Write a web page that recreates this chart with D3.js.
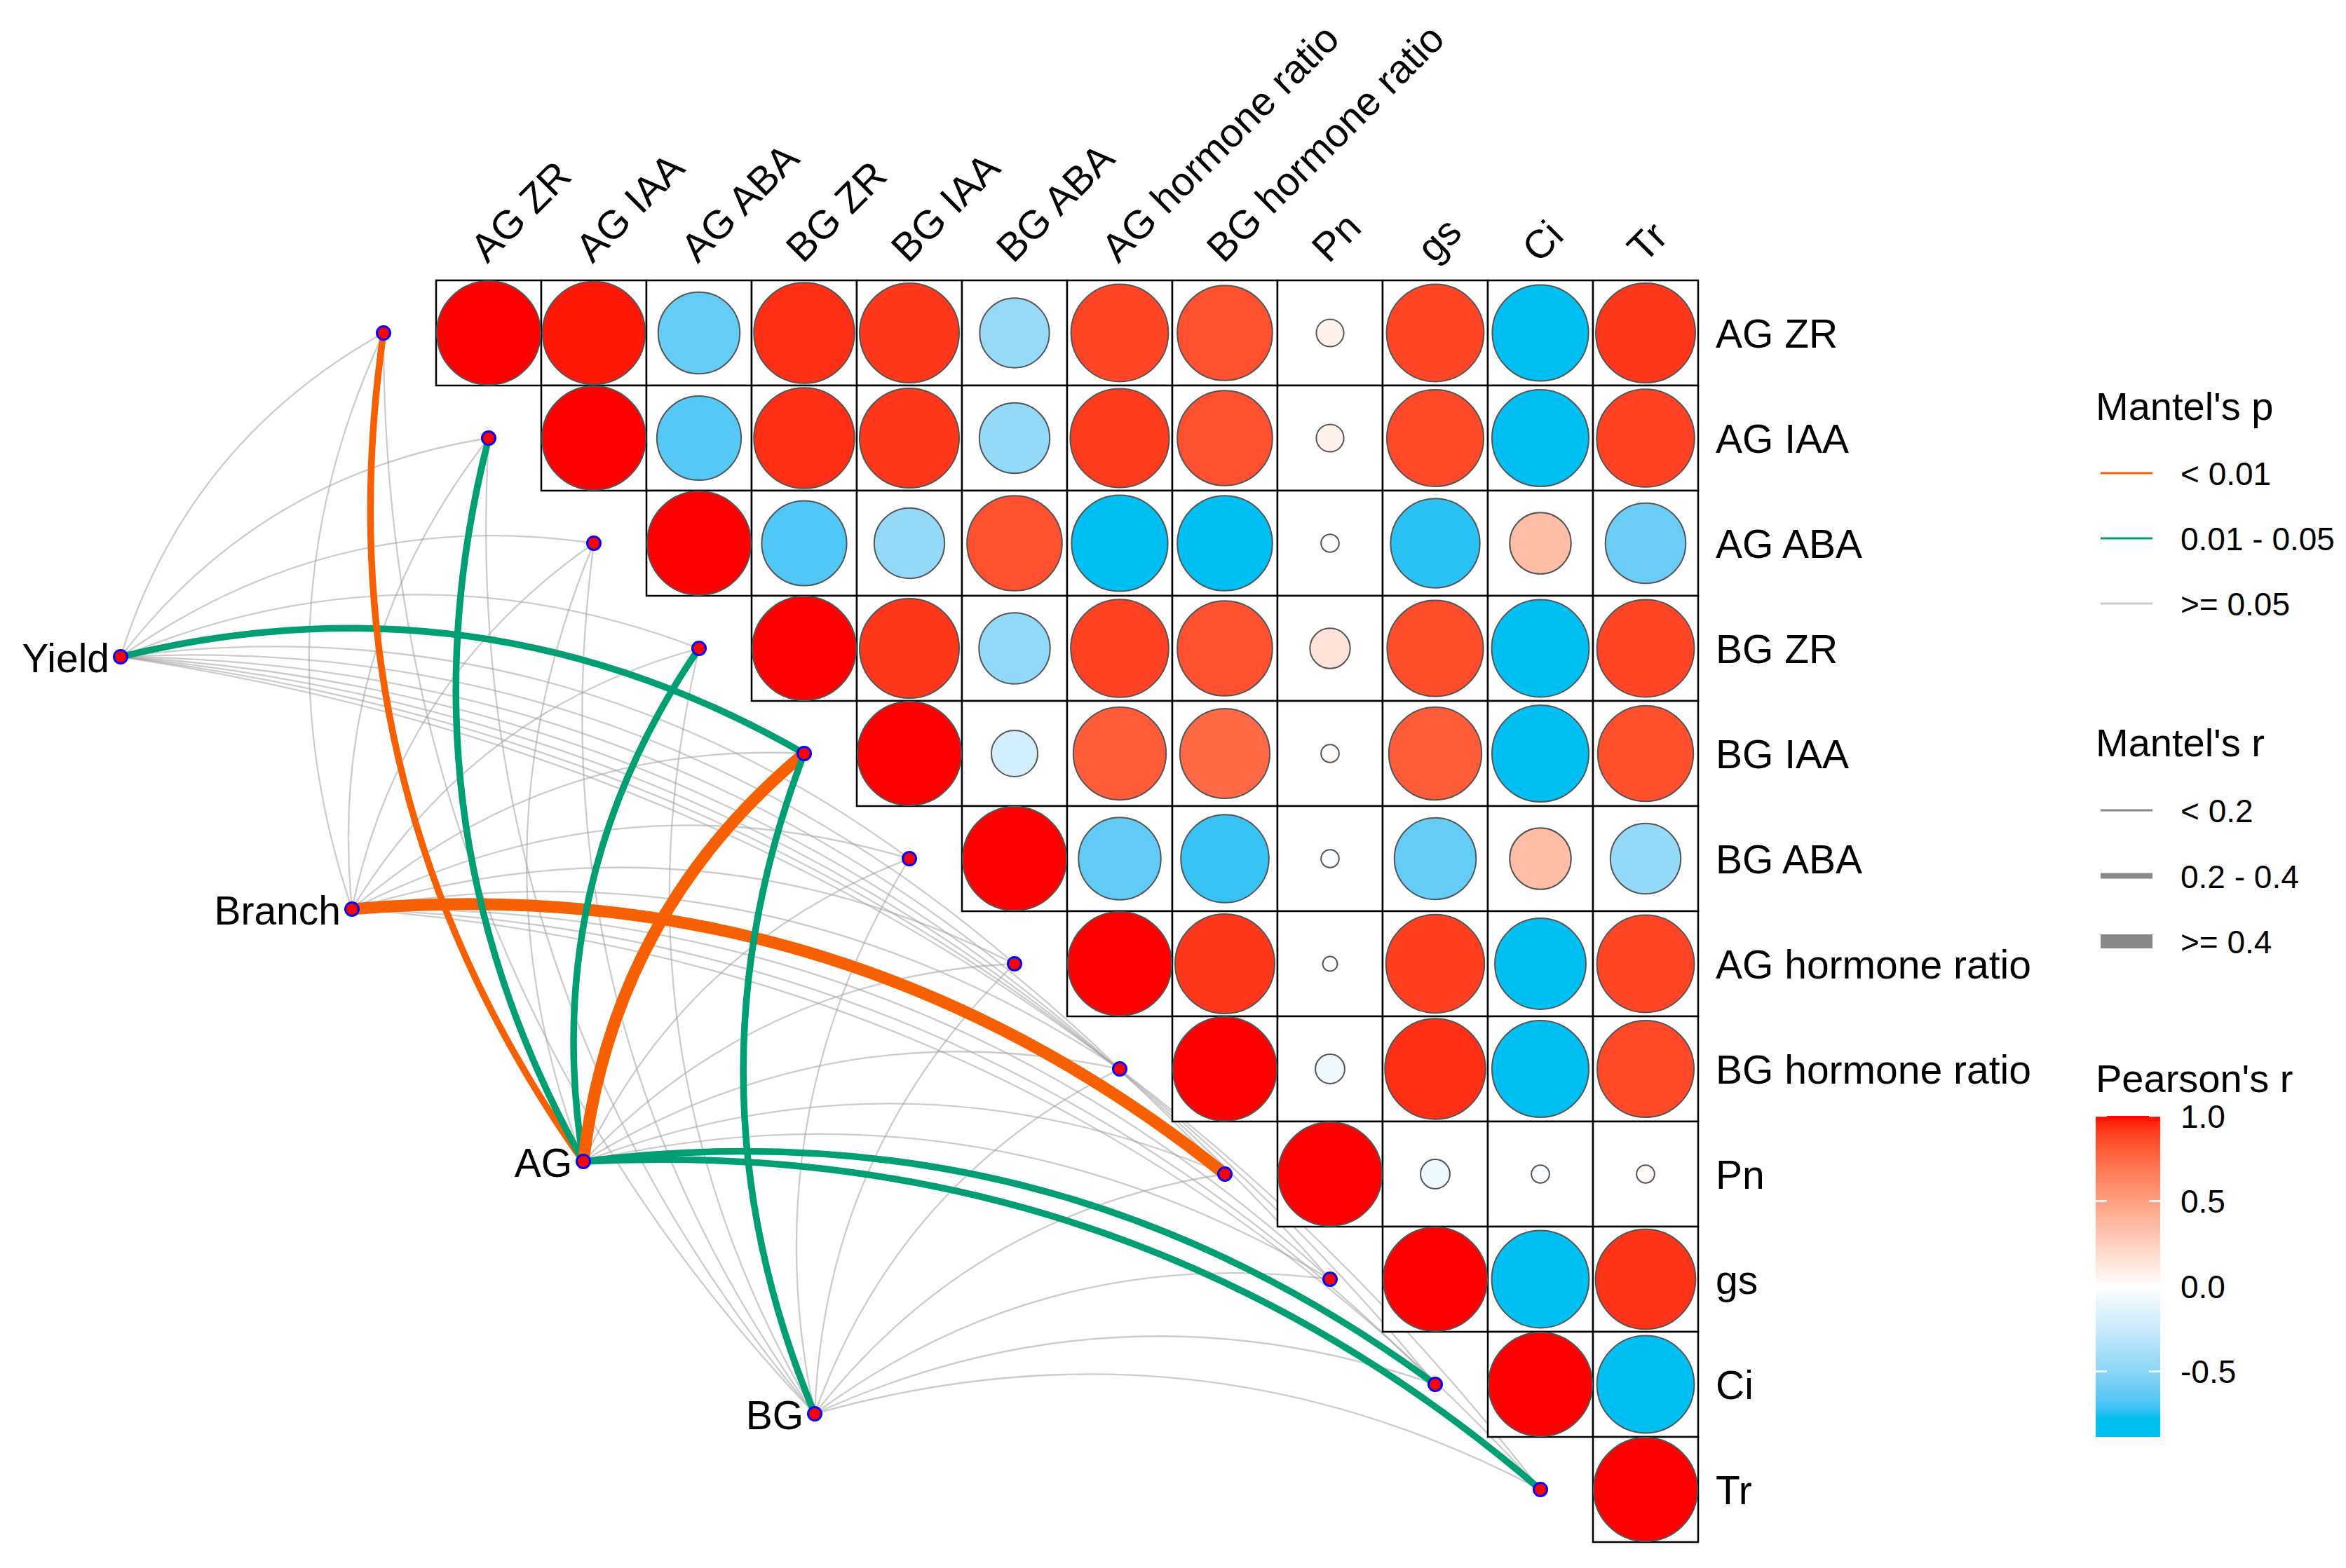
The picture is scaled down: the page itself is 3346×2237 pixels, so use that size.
<!DOCTYPE html>
<html>
<head>
<meta charset="utf-8">
<script src="https://cdn.jsdelivr.net/npm/d3@7/dist/d3.min.js"></script>
<style>
body { margin: 0; background: #fff; }
text { font-family: "Liberation Sans", Arial, sans-serif; fill: #000; }
</style>
</head>
<body>
<script>
// variables of the correlation matrix
var vars = ["AG ZR", "AG IAA", "AG ABA", "BG ZR", "BG IAA", "BG ABA",
            "AG hormone ratio", "BG hormone ratio", "Pn", "gs", "Ci", "Tr"];

// Pearson's r, upper triangle: row i holds columns i..11
var corrRows = [
  [1.00, 0.98, -0.62, 0.94, 0.92, -0.45, 0.88, 0.84, 0.07, 0.88, -0.86, 0.92],
  [1.00, -0.66, 0.94, 0.92, -0.46, 0.91, 0.84, 0.07, 0.87, -0.87, 0.89],
  [1.00, -0.67, -0.46, 0.84, -0.86, -0.84, 0.03, -0.74, 0.35, -0.60],
  [1.00, 0.92, -0.47, 0.89, 0.84, 0.15, 0.86, -0.88, 0.88],
  [1.00, -0.20, 0.80, 0.75, 0.03, 0.80, -0.87, 0.85],
  [1.00, -0.63, -0.72, -0.03, -0.62, 0.35, -0.46],
  [1.00, 0.92, 0.02, 0.90, -0.77, 0.88],
  [1.00, -0.08, 0.94, -0.87, 0.87],
  [1.00, -0.08, -0.03, 0.03],
  [1.00, -0.88, 0.93],
  [1.00, -0.88],
  [1.00]
];

// Mantel test: sources vs each variable
var sources = ["Yield", "Branch", "AG", "BG"];
var mantelR = [
  [0.12, 0.10, 0.08, 0.14, 0.26, 0.06, 0.13, 0.11, 0.09, 0.12, 0.10, 0.11],
  [0.05, 0.04, 0.07, 0.06, 0.09, 0.03, 0.05, 0.06, 0.46, 0.10, 0.04, 0.08],
  [0.31, 0.27, 0.10, 0.26, 0.47, 0.08, 0.15, 0.14, 0.06, 0.16, 0.24, 0.25],
  [0.08, 0.07, 0.05, 0.12, 0.28, 0.06, 0.09, 0.10, 0.04, 0.07, 0.11, 0.09]
];
var mantelP = [
  [0.21, 0.30, 0.45, 0.12, 0.03, 0.62, 0.18, 0.24, 0.40, 0.20, 0.33, 0.27],
  [0.65, 0.70, 0.52, 0.60, 0.35, 0.81, 0.66, 0.58, 0.004, 0.28, 0.74, 0.44],
  [0.006, 0.02, 0.33, 0.03, 0.001, 0.51, 0.09, 0.11, 0.63, 0.08, 0.04, 0.035],
  [0.48, 0.55, 0.71, 0.16, 0.02, 0.60, 0.37, 0.29, 0.77, 0.50, 0.22, 0.41]
];

var pLabels = ["< 0.01", "0.01 - 0.05", ">= 0.05"];
var rLabels = ["< 0.2", "0.2 - 0.4", ">= 0.4"];
var barTicks = [-0.5, 0, 0.5, 1.0];

var W = 3346, H = 2237;
var svg = d3.select("body").append("svg").attr("width", W).attr("height", H);

var x = d3.scaleBand().domain(vars).range([622, 2422]);
var y = d3.scaleBand().domain(vars).range([400, 2200]);
var cell = x.bandwidth();

var fill = d3.scaleLinear().domain([-0.77, 0, 1])
  .range(["#00BFF3", "#ffffff", "#ff0000"])
  .interpolate(d3.interpolateLab).clamp(true);
var rad = d3.scaleSqrt().domain([0, 1]).range([0, 74]);

var cells = [];
corrRows.forEach(function (row, i) {
  row.forEach(function (v, k) {
    cells.push({ row: vars[i], col: vars[i + k], r: v });
  });
});

// ---- network links ----
var pCol = function (p) { return p < 0.01 ? "#F66000" : (p < 0.05 ? "#009E73" : "rgba(162,162,162,0.55)"); };
var rW = function (r) { return r < 0.2 ? 2.3 : (r < 0.4 ? 9.5 : 17); };

var srcPos = sources.map(function (s, i) {
  return { name: s, x: 622 + cell * (-3.0 + 2.2 * i), y: 400 + cell * (3.58 + 2.4 * i) };
});
var tgtPos = vars.map(function (v, i) {
  return { name: v, x: x(v) - cell / 2, y: y(v) + cell / 2 };
});

var links = [];
sources.forEach(function (s, i) {
  vars.forEach(function (v, j) {
    links.push({ s: srcPos[i], t: tgtPos[j], r: mantelR[i][j], p: mantelP[i][j] });
  });
});
links.sort(function (a, b) {
  var ga = a.p >= 0.05 ? 0 : 1, gb = b.p >= 0.05 ? 0 : 1;
  return ga - gb;
});

function curve(d) {
  var dx = d.t.x - d.s.x, dy = d.t.y - d.s.y;
  var cx = (d.s.x + d.t.x) / 2 + 0.2 * dy, cy = (d.s.y + d.t.y) / 2 - 0.2 * dx;
  return "M" + d.s.x + "," + d.s.y + " Q" + cx + "," + cy + " " + d.t.x + "," + d.t.y;
}

svg.append("g").selectAll("path")
  .data(links)
  .enter().append("path")
    .attr("d", curve)
    .attr("fill", "none")
    .attr("stroke", function (d) { return pCol(d.p); })
    .attr("stroke-width", function (d) { return rW(d.r); });

// ---- correlation matrix ----
svg.append("g").selectAll("rect")
  .data(cells)
  .enter().append("rect")
    .attr("x", function (d) { return x(d.col); })
    .attr("y", function (d) { return y(d.row); })
    .attr("width", cell).attr("height", cell)
    .attr("fill", "#fff").attr("stroke", "#000").attr("stroke-width", 2.5);

svg.append("g").selectAll("circle")
  .data(cells)
  .enter().append("circle")
    .attr("cx", function (d) { return x(d.col) + cell / 2; })
    .attr("cy", function (d) { return y(d.row) + cell / 2; })
    .attr("r", function (d) { return rad(Math.abs(d.r)); })
    .attr("fill", function (d) { return fill(d.r); })
    .attr("stroke", "#555").attr("stroke-width", 2);

// nodes
svg.append("g").selectAll("circle")
  .data(srcPos.concat(tgtPos))
  .enter().append("circle")
    .attr("cx", function (d) { return d.x; })
    .attr("cy", function (d) { return d.y; })
    .attr("r", 9.5)
    .attr("fill", "#ff0000").attr("stroke", "#0000ff").attr("stroke-width", 3);

svg.append("g").selectAll("text")
  .data(srcPos)
  .enter().append("text")
    .attr("x", function (d) { return d.x - 16; })
    .attr("y", function (d) { return d.y + 22; })
    .attr("text-anchor", "end")
    .attr("font-size", 57)
    .text(function (d) { return d.name; });

// axis labels
svg.append("g").selectAll("text")
  .data(vars)
  .enter().append("text")
    .attr("x", 2447)
    .attr("y", function (d) { return y(d) + cell / 2 + 21; })
    .attr("font-size", 57)
    .text(function (d) { return d; });

svg.append("g").selectAll("text")
  .data(vars)
  .enter().append("text")
    .attr("transform", function (d) { return "translate(" + (x(d) + cell / 2 - 2) + ",377) rotate(-45)"; })
    .attr("font-size", 57)
    .text(function (d) { return d; });

// ---- legends ----
var lg = svg.append("g");
lg.append("text").attr("x", 2989).attr("y", 599).attr("font-size", 56).text("Mantel's p");
var pColors = ["#F66000", "#009E73", "#cccccc"];
pLabels.forEach(function (t, i) {
  var yy = 675 + i * 93;
  lg.append("line").attr("x1", 2996).attr("x2", 3070).attr("y1", yy).attr("y2", yy)
    .attr("stroke", pColors[i]).attr("stroke-width", 3);
  lg.append("text").attr("x", 3110).attr("y", yy + 17).attr("font-size", 46).text(t);
});

lg.append("text").attr("x", 2989).attr("y", 1079).attr("font-size", 56).text("Mantel's r");
var rWidths = [3, 8, 20];
rLabels.forEach(function (t, i) {
  var yy = 1156 + i * 93.5;
  lg.append("line").attr("x1", 2996).attr("x2", 3070).attr("y1", yy).attr("y2", yy)
    .attr("stroke", "#888").attr("stroke-width", rWidths[i]);
  lg.append("text").attr("x", 3110).attr("y", yy + 17).attr("font-size", 46).text(t);
});

lg.append("text").attr("x", 2989).attr("y", 1558).attr("font-size", 56).text("Pearson's r");
var barMin = d3.min(cells, function (d) { return d.r; }) - 0.005;
var by = d3.scaleLinear().domain([barMin, 1]).range([2050, 1592]);
var grad = svg.append("defs").append("linearGradient").attr("id", "cbar")
  .attr("x1", 0).attr("y1", 1).attr("x2", 0).attr("y2", 0);
d3.range(0, 1.0001, 0.02).forEach(function (t) {
  grad.append("stop").attr("offset", t).attr("stop-color", fill(barMin + t * (1 - barMin)));
});
lg.append("rect").attr("x", 2989).attr("y", by(1)).attr("width", 92)
  .attr("height", by(barMin) - by(1)).attr("fill", "url(#cbar)");
barTicks.forEach(function (v) {
  var yy = by(v);
  lg.append("line").attr("x1", 2989).attr("x2", 3005).attr("y1", yy).attr("y2", yy)
    .attr("stroke", "#fff").attr("stroke-width", 2.5);
  lg.append("line").attr("x1", 3065).attr("x2", 3081).attr("y1", yy).attr("y2", yy)
    .attr("stroke", "#fff").attr("stroke-width", 2.5);
  lg.append("text").attr("x", 3110).attr("y", yy + 17).attr("font-size", 46)
    .text(d3.format(".1f")(v).replace("−", "-"));
});
</script>
</body>
</html>
